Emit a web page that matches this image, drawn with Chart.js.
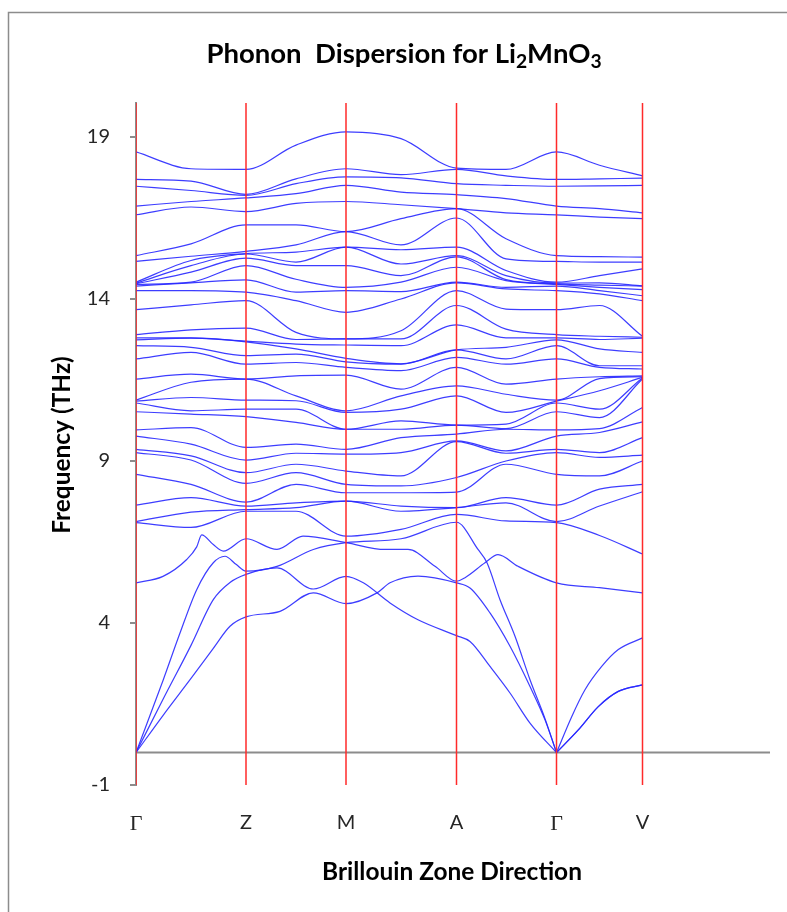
<!DOCTYPE html>
<html>
<head>
<meta charset="utf-8">
<script src="https://cdn.jsdelivr.net/npm/chart.js@4.4.0/dist/chart.umd.min.js"></script>
<style>
  html, body { margin: 0; padding: 0; background: #fff; }
  canvas { display: block; }
</style>
</head>
<body>
<canvas id="chart" width="787" height="912"></canvas>
<script>
// high symmetry points along the path
const kLabels = ["Γ", "Z", "M", "A", "Γ", "V"];
const kPos = [0, 1.10, 2.10, 3.205, 4.205, 5.065];
const yTicks = [-1, 4, 9, 14, 19];

// upper optical branches, read at these path positions (THz)
const colX = [0, 0.55, 1.10, 1.60, 2.10, 2.65, 3.205, 3.70, 4.205, 4.635, 5.065];
const optGamma = [18.54, 17.69, 17.48, 16.87, 16.60, 15.34, 15.16, 14.52, 14.49, 14.47, 14.45, 14.40, 14.26, 13.67, 12.90, 12.80, 12.74, 12.56, 12.15, 11.53, 10.88, 10.85, 10.79, 10.52, 9.96, 9.77, 9.36, 9.26, 8.59, 7.64, 7.13, 7.10];
const optGZ = [18.02, 17.64, 17.35, 17.01, 16.84, 15.70, 15.32, 15.19, 15.03, 14.83, 14.52, 14.50, 14.26, 13.82, 13.05, 12.80, 12.79, 12.51, 12.35, 11.68, 11.43, 10.96, 10.55, 10.45, 10.03, 9.52, 9.16, 9.03, 8.28, 7.87, 7.42, 6.95];
const optZ = [18.00, 17.23, 17.20, 17.12, 16.70, 16.29, 15.47, 15.40, 15.39, 15.26, 15.03, 14.59, 14.21, 13.95, 13.10, 12.70, 12.68, 12.25, 11.99, 11.53, 11.53, 10.88, 10.60, 10.37, 9.42, 9.03, 8.64, 8.31, 7.73, 7.61, 7.50, 7.45];
const optZM = [18.75, 17.71, 17.56, 17.25, 16.95, 16.29, 15.67, 15.45, 15.14, 15.03, 14.61, 14.21, 13.95, 12.97, 12.75, 12.61, 12.46, 12.30, 12.04, 11.63, 11.01, 10.86, 10.60, 10.19, 9.52, 9.24, 8.90, 8.64, 8.28, 7.71, 7.56, 7.45];
const optM = [19.16, 18.02, 17.77, 17.51, 17.01, 16.08, 16.08, 15.60, 15.60, 15.03, 14.36, 14.26, 13.59, 12.77, 12.77, 12.58, 12.17, 12.06, 11.89, 11.65, 10.55, 10.50, 9.98, 9.98, 9.36, 9.21, 8.69, 8.28, 8.02, 7.76, 7.76, 6.68];
const optMA = [18.95, 17.84, 17.74, 17.30, 16.91, 16.48, 15.67, 15.52, 15.08, 14.72, 14.52, 14.23, 14.00, 13.02, 12.77, 12.56, 12.00, 11.99, 11.79, 11.22, 11.01, 10.60, 10.24, 9.98, 9.72, 9.26, 8.54, 8.23, 8.02, 7.61, 7.45, 6.89];
const optA = [18.04, 18.00, 17.56, 17.22, 16.79, 16.79, 16.50, 15.60, 15.34, 15.30, 14.98, 14.52, 14.50, 14.26, 13.80, 13.20, 12.43, 12.43, 12.20, 11.89, 11.32, 11.01, 10.11, 10.11, 9.83, 9.62, 9.60, 8.49, 8.04, 7.56, 7.56, 7.35];
const optAG = [18.00, 17.80, 17.51, 17.10, 16.66, 15.86, 15.24, 14.88, 14.72, 14.60, 14.57, 14.36, 14.31, 13.69, 13.07, 12.80, 12.51, 12.15, 11.99, 11.37, 11.06, 10.50, 10.14, 10.00, 9.98, 9.31, 9.24, 9.00, 8.90, 7.87, 7.71, 7.15];
const optGV = [18.13, 17.71, 17.49, 16.79, 16.53, 15.31, 15.14, 14.72, 14.50, 14.43, 14.36, 14.26, 14.16, 13.80, 12.85, 12.75, 12.46, 11.94, 11.89, 11.60, 11.54, 11.17, 10.60, 10.34, 10.00, 9.88, 9.26, 9.11, 8.54, 8.13, 7.61, 6.70];
const optV = [17.80, 17.73, 17.51, 16.66, 16.48, 15.29, 15.14, 14.93, 14.41, 14.40, 14.29, 14.10, 13.95, 12.85, 12.82, 12.79, 12.35, 11.94, 11.84, 11.63, 11.60, 11.58, 11.56, 11.53, 10.65, 10.21, 9.72, 9.18, 9.00, 8.28, 8.05, 6.13];

// lowest optical branch
const op0X = [0, 0.27, 0.507, 0.607, 0.657, 0.773, 0.873, 1.10, 1.41, 1.67, 2.10, 2.49, 2.72, 2.99, 3.205, 3.29, 3.49, 3.62, 3.82, 4.205, 4.635, 5.065];
const op0Y = [5.24, 5.44, 5.96, 6.35, 6.72, 6.42, 6.22, 6.60, 6.27, 6.68, 6.48, 6.27, 6.27, 5.75, 5.29, 5.40, 5.86, 6.11, 5.75, 5.24, 5.09, 4.93];

// acoustic-like branches
const ac1X = [0, 0.273, 0.55, 0.773, 0.94, 1.10, 1.44, 1.773, 2.10, 2.41, 2.54, 2.82, 3.205, 3.34, 3.54, 3.74, 3.94, 4.09, 4.205, 4.357, 4.49, 4.657, 4.823, 5.065];
const ac1Y = [0, 1.16, 2.29, 3.22, 3.90, 4.19, 4.36, 4.93, 4.60, 4.93, 5.24, 5.45, 5.24, 5.08, 4.31, 3.28, 2.04, 1.01, 0, 1.11, 1.94, 2.66, 3.18, 3.54];
const ac2X = [0, 0.273, 0.55, 0.773, 0.94, 1.10, 1.41, 1.773, 2.10, 2.273, 2.54, 2.82, 3.205, 3.34, 3.54, 3.74, 3.94, 4.205, 4.423, 4.623, 4.823, 5.065];
const ac2Y = [0, 1.66, 3.31, 4.72, 5.25, 5.50, 5.70, 5.05, 5.44, 5.24, 4.62, 4.10, 3.61, 3.43, 2.66, 1.84, 0.91, 0, 0.70, 1.42, 1.89, 2.09];
const ac3X = [0, 0.273, 0.44, 0.607, 0.773, 0.89, 1.00, 1.10, 1.41, 1.773, 2.10, 2.65, 3.205, 3.42, 3.51, 3.64, 3.79, 3.94, 4.09, 4.205, 4.423, 4.623, 4.823, 5.065];
const ac3Y = [0, 2.25, 3.69, 5.03, 5.86, 6.06, 5.81, 5.60, 5.75, 6.27, 6.48, 6.60, 7.11, 6.27, 5.86, 4.72, 3.59, 2.25, 1.05, 0, 0.70, 1.42, 1.89, 2.09];

const Y_MIN = -1, Y_MAX = 20.05, X_MAX = 6.34;
const BLUE = "rgba(40, 40, 255, 0.9)";
const RED = "#ff2a2a";
const GREY = "#8c8c8c";

const columns = [optGamma, optGZ, optZ, optZM, optM, optMA, optA, optAG, optGamma, optGV, optV]
  .map(c => c.slice().sort((a, b) => a - b));

const datasets = [];

// red lines at the high symmetry points
kPos.forEach(x => {
  datasets.push({
    data: [{ x: x, y: Y_MIN }, { x: x, y: Y_MAX }],
    borderColor: RED, borderWidth: 1.5, pointRadius: 0, order: 0
  });
});

function band(xs, ys) {
  return {
    data: xs.map((x, i) => ({ x: x, y: ys[i] })),
    borderColor: BLUE, borderWidth: 1.2, pointRadius: 0,
    cubicInterpolationMode: "monotone", order: 1
  };
}

// acoustic curves are split at the second Γ so the cusp stays sharp
function splitAtGamma(xs, ys) {
  const g = xs.indexOf(kPos[4]);
  datasets.push(band(xs.slice(0, g + 1), ys.slice(0, g + 1)));
  datasets.push(band(xs.slice(g), ys.slice(g)));
}

for (let i = 0; i < columns[0].length; i++) {
  datasets.push(band(colX, columns.map(c => c[i])));
}
datasets.push(band(op0X, op0Y));
splitAtGamma(ac1X, ac1Y);
splitAtGamma(ac2X, ac2Y);
splitAtGamma(ac3X, ac3Y);

// zero line
datasets.push({
  data: [{ x: 0, y: 0 }, { x: X_MAX, y: 0 }],
  borderColor: GREY, borderWidth: 2, pointRadius: 0, order: 2
});

function fitFont(ctx, text, weight, family, width) {
  ctx.font = `${weight} 20px ${family}`;
  return 20 * width / ctx.measureText(text).width;
}

const decor = {
  id: "decor",
  beforeDraw(chart) {
    const ctx = chart.ctx;
    ctx.save();
    ctx.fillStyle = "#fff";
    ctx.fillRect(0, 0, chart.width, chart.height);
    ctx.strokeStyle = GREY;
    ctx.lineWidth = 1.5;
    ctx.beginPath();
    ctx.moveTo(8.5, chart.height + 5);
    ctx.lineTo(8.5, 12.5);
    ctx.lineTo(chart.width + 5, 12.5);
    ctx.stroke();
    ctx.restore();
  },
  afterDraw(chart) {
    const ctx = chart.ctx;
    ctx.save();
    ctx.fillStyle = "#000";
    // title with subscripts
    const parts = [["Phonon  Dispersion for Li", false], ["2", true], ["MnO", false], ["3", true]];
    const size = fitFont(ctx, "Phonon  Dispersion for Li2MnO3", "bold", "Lato", 405);
    let total = 0;
    parts.forEach(p => {
      ctx.font = `bold ${p[1] ? size * 0.7 : size}px Lato`;
      total += ctx.measureText(p[0]).width;
    });
    let x = 404 - total / 2;
    ctx.textBaseline = "alphabetic";
    ctx.textAlign = "left";
    parts.forEach(p => {
      ctx.font = `bold ${p[1] ? size * 0.7 : size}px Lato`;
      ctx.fillText(p[0], x, p[1] ? 68 : 63);
      x += ctx.measureText(p[0]).width;
    });
    // axis titles
    const fs = fitFont(ctx, "Brillouin Zone Direction", "bold", "Lato", 260);
    ctx.font = `bold ${fs}px Lato`;
    ctx.textAlign = "center";
    ctx.textBaseline = "middle";
    ctx.fillText("Brillouin Zone Direction", 452, 872);
    ctx.translate(62, 445);
    ctx.rotate(-Math.PI / 2);
    ctx.fillText("Frequency (THz)", 0, 0);
    ctx.restore();
  }
};

new Chart(document.getElementById("chart"), {
  type: "line",
  data: { datasets: datasets },
  plugins: [decor],
  options: {
    responsive: false,
    animation: false,
    devicePixelRatio: 1,
    layout: { padding: { top: 103, right: 17, left: 0, bottom: 0 } },
    plugins: { legend: { display: false }, tooltip: { enabled: false } },
    elements: { line: { tension: 0 } },
    scales: {
      x: {
        type: "linear", min: 0, max: X_MAX,
        afterBuildTicks: s => { s.ticks = kPos.map(v => ({ value: v })); },
        afterFit: s => { s.height = 127; },
        grid: { display: false, drawTicks: false },
        border: { display: false },
        ticks: {
          autoSkip: false, maxRotation: 0, padding: 26, color: "#262626",
          callback: (v, i) => kLabels[i],
          font: c => (c.index === 0 || c.index === 4)
            ? { family: "Liberation Serif", size: 22 }
            : { family: "Lato", size: 20 }
        }
      },
      y: {
        min: Y_MIN, max: Y_MAX,
        afterBuildTicks: s => { s.ticks = yTicks.map(v => ({ value: v })); },
        afterFit: s => { s.width = 136; },
        grid: { drawOnChartArea: false, color: GREY, tickLength: 6, lineWidth: 2 },
        border: { color: GREY, width: 2 },
        ticks: { color: "#262626", padding: 20, font: { family: "Lato", size: 20 } }
      }
    }
  }
});
</script>
</body>
</html>
